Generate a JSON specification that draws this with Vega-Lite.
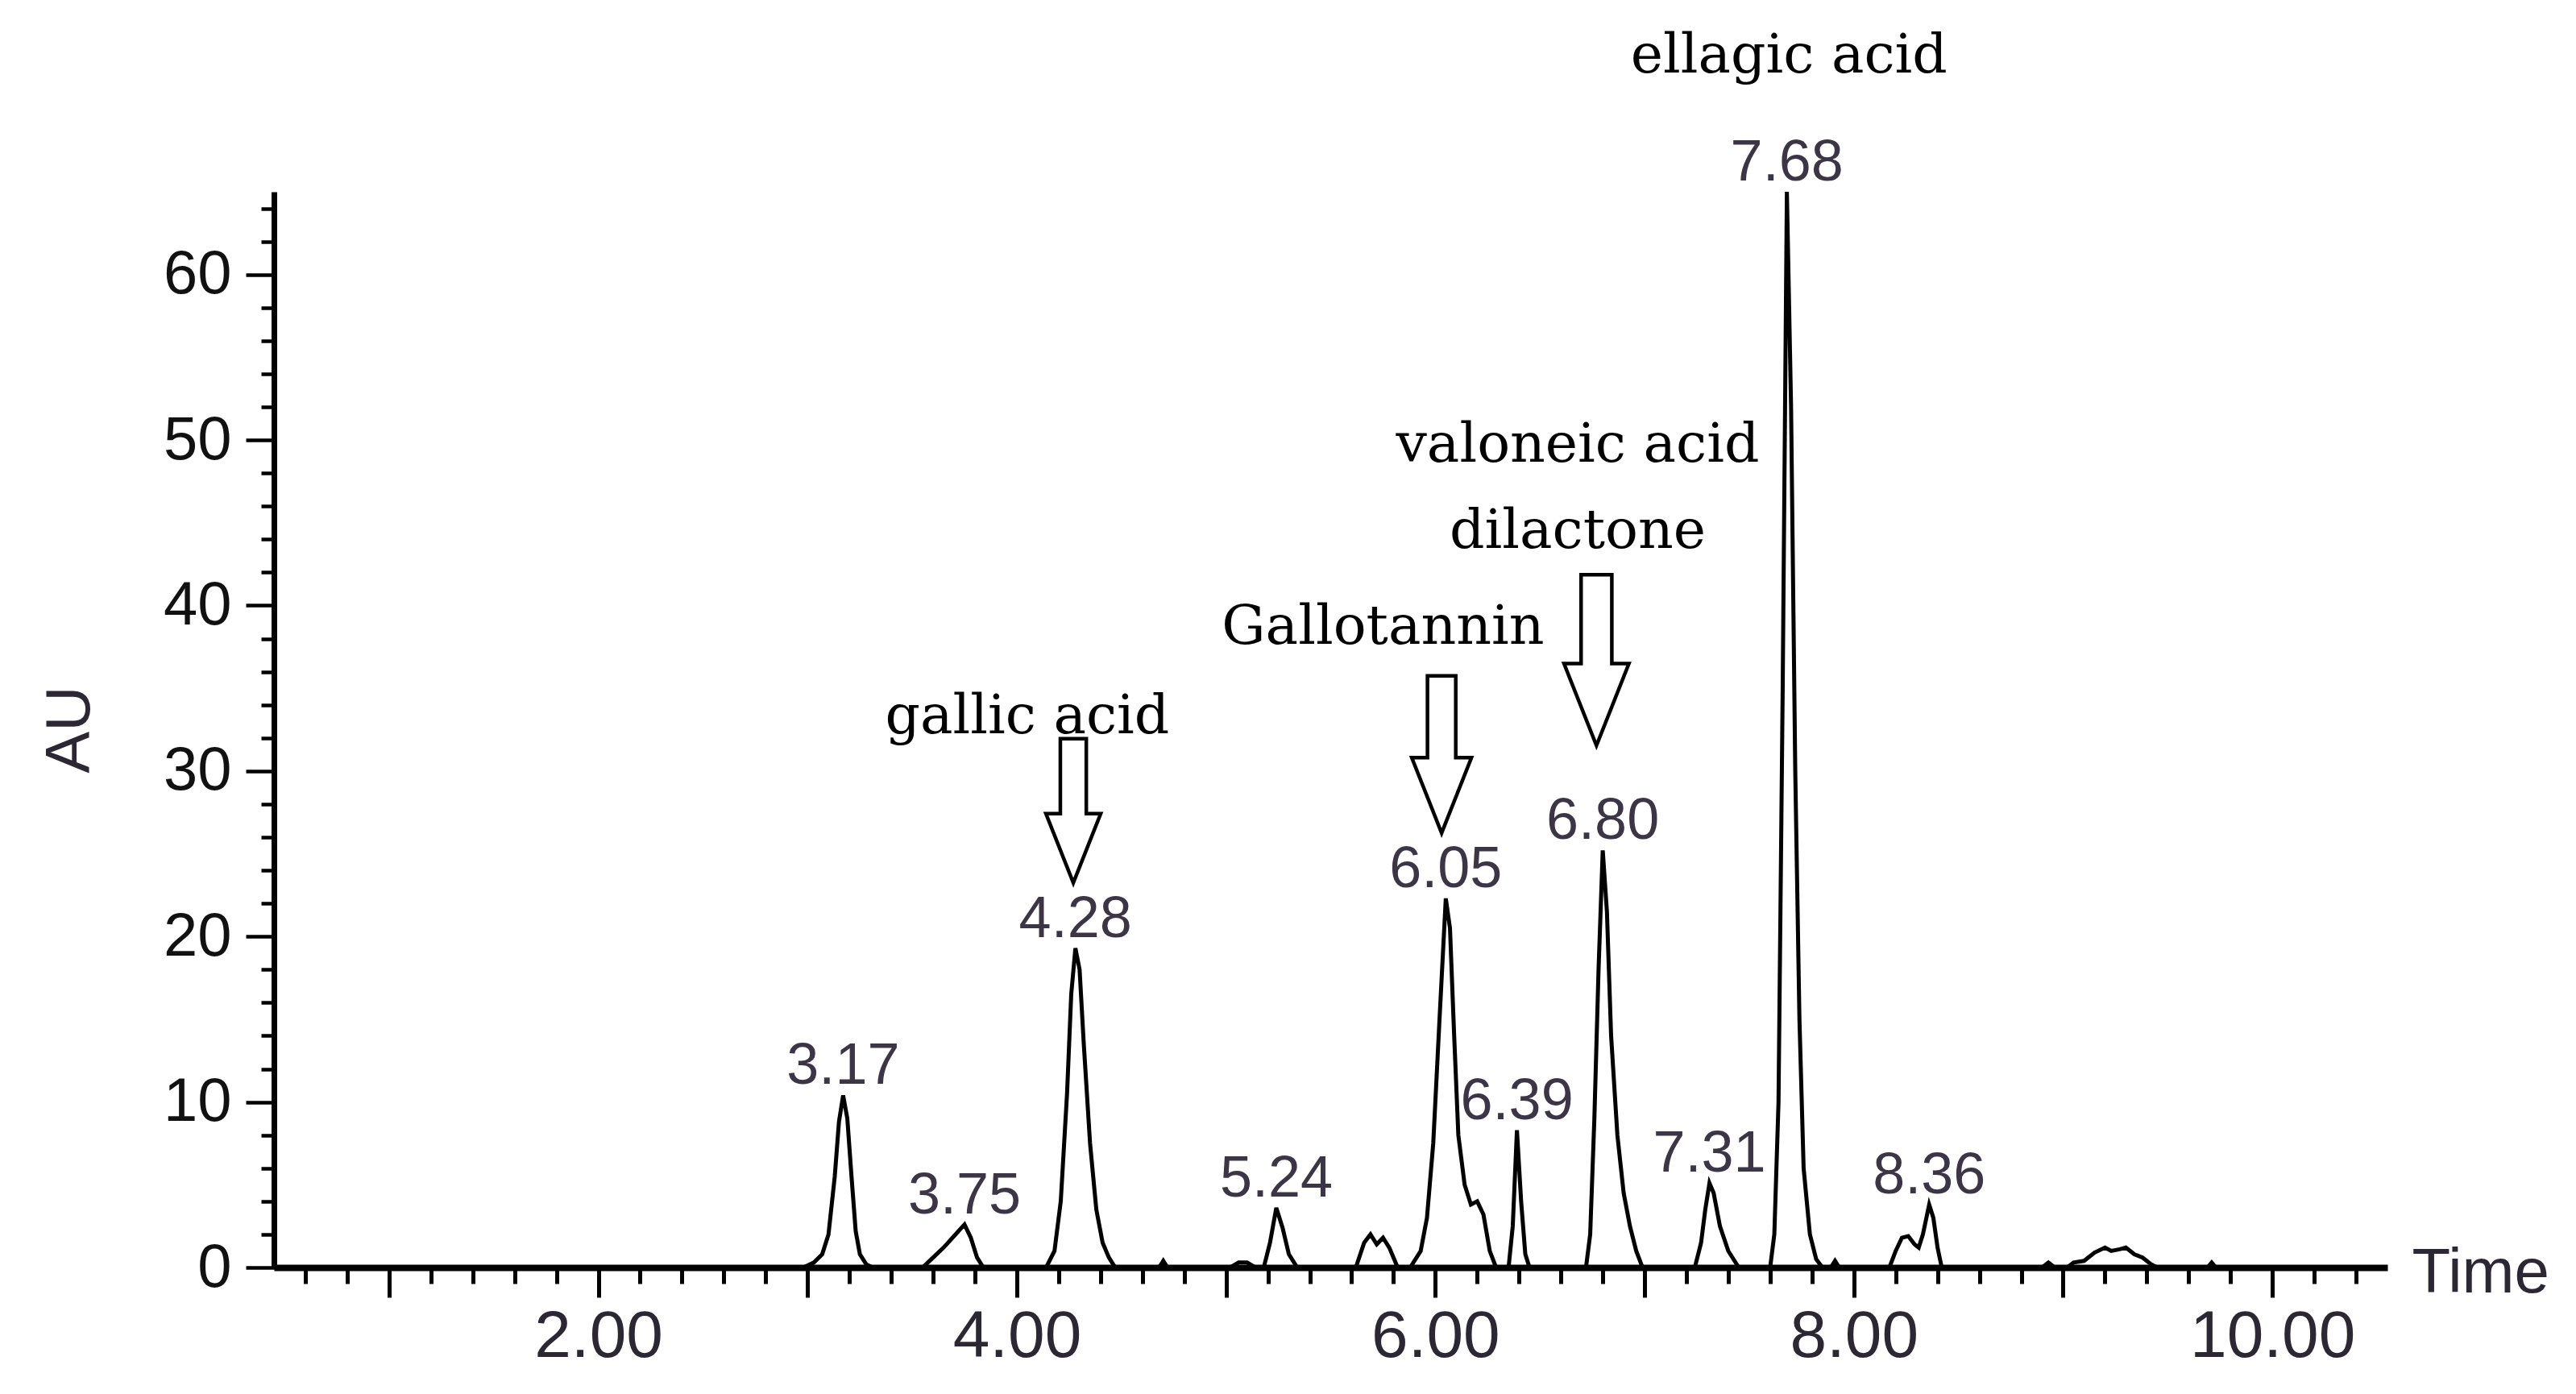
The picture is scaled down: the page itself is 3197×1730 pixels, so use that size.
{
  "$schema": "https://vega.github.io/schema/vega-lite/v6.json",
  "autosize": {"type": "none"},
  "padding": {"left": 340, "top": 238, "right": 234, "bottom": 157},
  "width": 2623,
  "height": 1335,
  "background": "white",
  "config": {"view": {"stroke": null}, "axis": {"grid": false}},
  "datasets": {
    "trace": [
      {"time": 0.45, "au": 0}, {"time": 2.95, "au": 0},
      {"time": 2.98, "au": 0}, {"time": 3.03, "au": 0.3}, {"time": 3.07, "au": 0.8}, {"time": 3.10, "au": 2.0}, {"time": 3.13, "au": 5.5}, {"time": 3.15, "au": 8.8}, {"time": 3.17, "au": 10.4}, {"time": 3.19, "au": 9.0}, {"time": 3.21, "au": 5.5}, {"time": 3.23, "au": 2.2}, {"time": 3.25, "au": 0.8}, {"time": 3.28, "au": 0.2}, {"time": 3.31, "au": 0},
      {"time": 3.55, "au": 0}, {"time": 3.60, "au": 0.6}, {"time": 3.65, "au": 1.2}, {"time": 3.70, "au": 1.9}, {"time": 3.75, "au": 2.6}, {"time": 3.78, "au": 1.8}, {"time": 3.81, "au": 0.6}, {"time": 3.84, "au": 0},
      {"time": 4.14, "au": 0}, {"time": 4.18, "au": 1.0}, {"time": 4.21, "au": 4.0}, {"time": 4.24, "au": 10.5}, {"time": 4.26, "au": 16.5}, {"time": 4.28, "au": 19.3}, {"time": 4.30, "au": 18.0}, {"time": 4.32, "au": 13.5}, {"time": 4.35, "au": 7.5}, {"time": 4.38, "au": 3.5}, {"time": 4.41, "au": 1.5}, {"time": 4.44, "au": 0.6}, {"time": 4.47, "au": 0},
      {"time": 4.68, "au": 0}, {"time": 4.70, "au": 0.4}, {"time": 4.72, "au": 0},
      {"time": 5.02, "au": 0}, {"time": 5.06, "au": 0.3}, {"time": 5.10, "au": 0.3}, {"time": 5.14, "au": 0},
      {"time": 5.18, "au": 0}, {"time": 5.21, "au": 1.5}, {"time": 5.24, "au": 3.6}, {"time": 5.27, "au": 2.4}, {"time": 5.30, "au": 0.8}, {"time": 5.34, "au": 0},
      {"time": 5.62, "au": 0}, {"time": 5.66, "au": 1.5}, {"time": 5.69, "au": 2.0}, {"time": 5.72, "au": 1.4}, {"time": 5.75, "au": 1.8}, {"time": 5.78, "au": 1.2}, {"time": 5.82, "au": 0},
      {"time": 5.88, "au": 0}, {"time": 5.93, "au": 1.0}, {"time": 5.96, "au": 3.0}, {"time": 5.99, "au": 7.5}, {"time": 6.02, "au": 15.0}, {"time": 6.05, "au": 22.3}, {"time": 6.07, "au": 20.5}, {"time": 6.09, "au": 14.0}, {"time": 6.11, "au": 8.0}, {"time": 6.14, "au": 5.0}, {"time": 6.17, "au": 3.8}, {"time": 6.20, "au": 4.0}, {"time": 6.23, "au": 3.2}, {"time": 6.26, "au": 1.0}, {"time": 6.29, "au": 0},
      {"time": 6.35, "au": 0}, {"time": 6.37, "au": 2.5}, {"time": 6.39, "au": 8.3}, {"time": 6.41, "au": 4.0}, {"time": 6.43, "au": 0.8}, {"time": 6.45, "au": 0},
      {"time": 6.72, "au": 0}, {"time": 6.74, "au": 2.0}, {"time": 6.76, "au": 9.0}, {"time": 6.78, "au": 18.0}, {"time": 6.80, "au": 25.2}, {"time": 6.82, "au": 21.5}, {"time": 6.84, "au": 14.0}, {"time": 6.87, "au": 8.0}, {"time": 6.90, "au": 4.5}, {"time": 6.93, "au": 2.5}, {"time": 6.96, "au": 1.0}, {"time": 6.99, "au": 0},
      {"time": 7.24, "au": 0}, {"time": 7.27, "au": 1.5}, {"time": 7.29, "au": 3.5}, {"time": 7.31, "au": 5.1}, {"time": 7.33, "au": 4.5}, {"time": 7.36, "au": 2.5}, {"time": 7.40, "au": 1.0}, {"time": 7.45, "au": 0},
      {"time": 7.60, "au": 0}, {"time": 7.62, "au": 2}, {"time": 7.64, "au": 10}, {"time": 7.66, "au": 35}, {"time": 7.68, "au": 65}, {"time": 7.70, "au": 52}, {"time": 7.72, "au": 30}, {"time": 7.74, "au": 15}, {"time": 7.76, "au": 6}, {"time": 7.79, "au": 2}, {"time": 7.82, "au": 0.5}, {"time": 7.85, "au": 0},
      {"time": 7.89, "au": 0}, {"time": 7.91, "au": 0.4}, {"time": 7.93, "au": 0},
      {"time": 8.17, "au": 0}, {"time": 8.20, "au": 1.0}, {"time": 8.23, "au": 1.8}, {"time": 8.26, "au": 1.9}, {"time": 8.29, "au": 1.4}, {"time": 8.31, "au": 1.2}, {"time": 8.33, "au": 2.0}, {"time": 8.36, "au": 3.8}, {"time": 8.38, "au": 3.0}, {"time": 8.40, "au": 1.2}, {"time": 8.42, "au": 0},
      {"time": 8.90, "au": 0}, {"time": 8.93, "au": 0.3}, {"time": 8.96, "au": 0},
      {"time": 9.02, "au": 0}, {"time": 9.05, "au": 0.3}, {"time": 9.10, "au": 0.4}, {"time": 9.15, "au": 0.9}, {"time": 9.20, "au": 1.2}, {"time": 9.23, "au": 1.0}, {"time": 9.27, "au": 1.1}, {"time": 9.30, "au": 1.2}, {"time": 9.34, "au": 0.8}, {"time": 9.38, "au": 0.6}, {"time": 9.42, "au": 0.2}, {"time": 9.45, "au": 0},
      {"time": 9.69, "au": 0}, {"time": 9.71, "au": 0.3}, {"time": 9.73, "au": 0}, {"time": 10.55, "au": 0}
    ],
    "peaks": [
      {"rt": "3.17", "time": 3.17, "au": 10.4},
      {"rt": "3.75", "time": 3.75, "au": 2.6},
      {"rt": "4.28", "time": 4.28, "au": 19.3},
      {"rt": "5.24", "time": 5.24, "au": 3.6},
      {"rt": "6.05", "time": 6.05, "au": 22.3},
      {"rt": "6.39", "time": 6.39, "au": 8.3},
      {"rt": "6.80", "time": 6.80, "au": 25.2},
      {"rt": "7.31", "time": 7.31, "au": 5.1},
      {"rt": "7.68", "time": 7.68, "au": 65},
      {"rt": "8.36", "time": 8.36, "au": 3.8}
    ],
    "notes": [
      {"name": "gallic acid", "time": 4.05, "au": 32.3},
      {"name": "Gallotannin", "time": 5.75, "au": 37.7},
      {"name": "valoneic acid", "time": 6.68, "au": 48.7},
      {"name": "dilactone", "time": 6.68, "au": 43.5},
      {"name": "ellagic acid", "time": 7.69, "au": 72.2}
    ],
    "arrows": [
      {"compound": "gallic acid", "time": 4.27, "au": 27.6},
      {"compound": "Gallotannin", "time": 6.03, "au": 31.0},
      {"compound": "valoneic acid dilactone", "time": 6.77, "au": 36.7}
    ]
  },
  "layer": [
    {
      "data": {"name": "trace"},
      "mark": {"type": "line", "color": "black", "strokeWidth": 5, "clip": false, "strokeJoin": "miter"},
      "encoding": {
        "x": {
          "field": "time", "type": "quantitative",
          "scale": {"domain": [0.45, 10.55], "nice": false, "zero": false},
          "axis": {
            "title": "Time", "titleX": 2653, "titleY": 30, "titleAlign": "left", "titleBaseline": "alphabetic", "titleAngle": 0,
            "titleFont": "Liberation Sans", "titleFontSize": 78, "titleFontWeight": "normal", "titleColor": "#2b2733",
            "values": [0.6, 0.8, 1, 1.2, 1.4, 1.6, 1.8, 2, 2.2, 2.4, 2.6, 2.8, 3, 3.2, 3.4, 3.6, 3.8, 4, 4.2, 4.4, 4.6, 4.8, 5, 5.2, 5.4, 5.6, 5.8, 6, 6.2, 6.4, 6.6, 6.8, 7, 7.2, 7.4, 7.6, 7.8, 8, 8.2, 8.4, 8.6, 8.8, 9, 9.2, 9.4, 9.6, 9.8, 10, 10.2, 10.4],
            "tickSize": {"condition": {"test": "datum.value % 1 === 0", "value": 37}, "value": 20},
            "tickWidth": 5, "tickColor": "black",
            "domainWidth": 8, "domainColor": "black",
            "labelExpr": "datum.value % 2 === 0 ? format(datum.value, '.2f') : ''",
            "labelFont": "Liberation Sans", "labelFontSize": 82, "labelColor": "#2b2733", "labelPadding": 8, "labelLimit": 1000,
            "labelOverlap": false, "labelFlush": false, "labelBound": false
          }
        },
        "y": {
          "field": "au", "type": "quantitative",
          "scale": {"domain": [0, 65], "nice": false},
          "axis": {
            "title": "AU", "titleAngle": -90, "titleX": -230, "titleY": 667, "titleAlign": "center", "titleBaseline": "alphabetic",
            "titleFont": "Liberation Sans", "titleFontSize": 78, "titleFontWeight": "normal", "titleColor": "#2b2733",
            "values": [0, 1, 2, 3, 4, 5, 6, 7, 8, 9, 10, 11, 12, 13, 14, 15, 16, 17, 18, 19, 20, 21, 22, 23, 24, 25, 26, 27, 28, 29, 30, 31, 32, 33, 34, 35, 36, 37, 38, 39, 40, 41, 42, 43, 44, 45, 46, 47, 48, 49, 50, 51, 52, 53, 54, 55, 56, 57, 58, 59, 60, 61, 62, 63, 64, 65],
            "tickSize": {"condition": {"test": "datum.value % 5 === 0", "value": 35}, "value": 16},
            "tickWidth": 4.5, "tickColor": "black",
            "domainWidth": 7, "domainColor": "black",
            "labelExpr": "datum.value % 10 === 0 ? datum.label : ''",
            "labelFont": "Liberation Sans", "labelFontSize": 76, "labelColor": "#111111", "labelPadding": 18, "labelLimit": 1000,
            "labelOverlap": false, "labelFlush": false, "labelBound": false
          }
        }
      }
    },
    {
      "data": {"name": "peaks"},
      "mark": {"type": "text", "font": "Liberation Sans", "fontSize": 72, "color": "#3b3545", "align": "center", "baseline": "alphabetic", "dy": -14},
      "encoding": {
        "x": {"field": "time", "type": "quantitative"},
        "y": {"field": "au", "type": "quantitative"},
        "text": {"field": "rt"}
      }
    },
    {
      "data": {"name": "notes"},
      "mark": {"type": "text", "font": "DejaVu Serif", "fontSize": 68, "color": "black", "align": "center", "baseline": "alphabetic"},
      "encoding": {
        "x": {"field": "time", "type": "quantitative"},
        "y": {"field": "au", "type": "quantitative"},
        "text": {"field": "name"}
      }
    },
    {
      "data": {"name": "arrows"},
      "transform": [{"filter": "datum.compound === 'gallic acid'"}],
      "mark": {"type": "point", "shape": "M-0.18,-1L0.18,-1L0.18,0.04L0.38,0.04L0,1L-0.38,0.04L-0.18,0.04Z", "size": 32041, "filled": true, "fill": "white", "stroke": "black", "strokeWidth": 4.5, "opacity": 1, "strokeJoin": "miter"},
      "encoding": {
        "x": {"field": "time", "type": "quantitative"},
        "y": {"field": "au", "type": "quantitative"}
      }
    },
    {
      "data": {"name": "arrows"},
      "transform": [{"filter": "datum.compound === 'Gallotannin'"}],
      "mark": {"type": "point", "shape": "M-0.18,-1L0.18,-1L0.18,0.04L0.38,0.04L0,1L-0.38,0.04L-0.18,0.04Z", "size": 38025, "filled": true, "fill": "white", "stroke": "black", "strokeWidth": 4.5, "opacity": 1, "strokeJoin": "miter"},
      "encoding": {
        "x": {"field": "time", "type": "quantitative"},
        "y": {"field": "au", "type": "quantitative"}
      }
    },
    {
      "data": {"name": "arrows"},
      "transform": [{"filter": "datum.compound === 'valoneic acid dilactone'"}],
      "mark": {"type": "point", "shape": "M-0.18,-1L0.18,-1L0.18,0.04L0.38,0.04L0,1L-0.38,0.04L-0.18,0.04Z", "size": 44944, "filled": true, "fill": "white", "stroke": "black", "strokeWidth": 4.5, "opacity": 1, "strokeJoin": "miter"},
      "encoding": {
        "x": {"field": "time", "type": "quantitative"},
        "y": {"field": "au", "type": "quantitative"}
      }
    }
  ]
}
